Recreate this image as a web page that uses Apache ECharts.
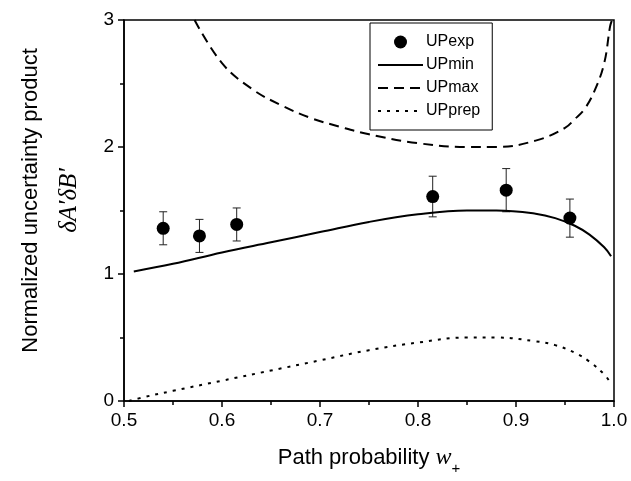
<!DOCTYPE html>
<html>
<head>
<meta charset="utf-8">
<script src="https://cdn.jsdelivr.net/npm/echarts@6/dist/echarts.min.js"></script>
<style>
  html, body { margin: 0; padding: 0; background: #fff; }
  #main { width: 631px; height: 481px; }
</style>
</head>
<body>
<div id="main"></div>
<script>
// measured points (path probability, UP, error)
var expW = [0.540, 0.577, 0.615, 0.815, 0.890, 0.955];
var expUP = [1.36, 1.30, 1.39, 1.61, 1.66, 1.44];
var expErr = [0.13, 0.13, 0.13, 0.16, 0.17, 0.15];

// UPmin curve
var minW = [0.51, 0.55, 0.60, 0.65, 0.70, 0.75, 0.80, 0.85, 0.88, 0.92, 0.94, 0.96, 0.975, 0.99, 0.997];
var minUP = [1.02, 1.08, 1.17, 1.25, 1.33, 1.41, 1.47, 1.50, 1.50, 1.475, 1.44, 1.38, 1.31, 1.21, 1.14];

// UPmax curve
var maxW = [0.572, 0.60, 0.63, 0.66, 0.69, 0.72, 0.75, 0.80, 0.85, 0.88, 0.92, 0.95, 0.96, 0.97, 0.98, 0.99, 0.996, 0.998];
var maxUP = [3.00, 2.66, 2.46, 2.33, 2.23, 2.16, 2.10, 2.03, 2.00, 2.00, 2.05, 2.15, 2.22, 2.30, 2.44, 2.66, 2.95, 3.00];

// UPprep curve
var prepW = [0.505, 0.52, 0.55, 0.60, 0.65, 0.70, 0.75, 0.80, 0.85, 0.88, 0.92, 0.94, 0.96, 0.975, 0.99, 0.995];
var prepUP = [0.00, 0.03, 0.08, 0.16, 0.24, 0.32, 0.40, 0.46, 0.50, 0.50, 0.47, 0.44, 0.38, 0.31, 0.21, 0.16];

function pairs(xs, ys) {
    return xs.map(function (x, i) { return [x, ys[i]]; });
}

var chart = echarts.init(document.getElementById('main'));
var font = 'Liberation Sans, Arial, sans-serif';
var noSymbol = { opacity: 0 };

var option = {
    animation: false,
    backgroundColor: '#fff',
    grid: {
        left: 124, right: 17, top: 20, bottom: 80,
        show: true, borderColor: '#000', borderWidth: 1.5
    },
    legend: {
        orient: 'vertical',
        left: 370, top: 23,
        data: [
            { name: 'UPexp' },
            { name: 'UPmin', itemStyle: noSymbol },
            { name: 'UPmax', itemStyle: noSymbol },
            { name: 'UPprep', itemStyle: noSymbol }
        ],
        itemWidth: 45, itemHeight: 13, itemGap: 7,
        borderColor: '#000', borderWidth: 1,
        padding: [11, 12, 11, 7],
        textStyle: { fontFamily: font, fontSize: 16, color: '#000', padding: [0, 0, 0, -2] }
    },
    xAxis: {
        type: 'value', min: 0.5, max: 1.0, interval: 0.1,
        name: '{a|Path probability }{w|w}{s|+}',
        nameLocation: 'middle', nameGap: 38,
        nameTextStyle: {
            rich: {
                a: { fontFamily: font, fontSize: 22, color: '#000' },
                w: { fontFamily: 'Liberation Serif, serif', fontStyle: 'italic', fontSize: 24, color: '#000' },
                s: { fontFamily: font, fontSize: 15, color: '#000', padding: [22, 0, 0, 0] }
            }
        },
        axisLine: { lineStyle: { color: '#000', width: 1.5 } },
        axisTick: { length: 6, lineStyle: { color: '#000', width: 1.5 } },
        minorTick: { show: true, splitNumber: 2, length: 4, lineStyle: { color: '#000', width: 1.5 } },
        axisLabel: {
            fontFamily: font, fontSize: 19, color: '#000', margin: 10,
            formatter: function (v) { return v.toFixed(1); }
        },
        splitLine: { show: false }
    },
    yAxis: {
        type: 'value', min: 0, max: 3, interval: 1,
        name: '{a|Normalized uncertainty product}\n{b|δA′δB′}',
        nameLocation: 'middle', nameGap: 40, nameRotate: 90,
        nameTextStyle: {
            padding: [0, 0, 0, 20],
            rich: {
                a: { fontFamily: font, fontSize: 22, color: '#000', lineHeight: 46 },
                b: { fontFamily: 'Liberation Serif, serif', fontStyle: 'italic', fontSize: 25, color: '#000', lineHeight: 30 }
            }
        },
        axisLine: { lineStyle: { color: '#000', width: 1.5 } },
        axisTick: { length: 6, lineStyle: { color: '#000', width: 1.5 } },
        minorTick: { show: true, splitNumber: 2, length: 4, lineStyle: { color: '#000', width: 1.5 } },
        axisLabel: { fontFamily: font, fontSize: 19, color: '#000', margin: 10 },
        splitLine: { show: false }
    },
    series: [
        {
            name: 'UPmin', type: 'line', smooth: 0.4, symbol: 'none',
            data: pairs(minW, minUP),
            lineStyle: { color: '#000', width: 2 },
            itemStyle: { color: '#000' }
        },
        {
            name: 'UPmax', type: 'line', smooth: 0.4, symbol: 'none',
            data: pairs(maxW, maxUP),
            lineStyle: { color: '#000', width: 2, type: [10, 6] },
            itemStyle: { color: '#000' }
        },
        {
            name: 'UPprep', type: 'line', smooth: 0.4, symbol: 'none',
            data: pairs(prepW, prepUP),
            lineStyle: { color: '#000', width: 2, type: [3, 6] },
            itemStyle: { color: '#000' }
        },
        {
            // error bars
            type: 'custom',
            data: expW.map(function (w, i) { return [w, expUP[i] - expErr[i], expUP[i] + expErr[i]]; }),
            renderItem: function (params, api) {
                var lo = api.coord([api.value(0), api.value(1)]);
                var hi = api.coord([api.value(0), api.value(2)]);
                var c = 4;
                var st = { stroke: '#222', lineWidth: 1 };
                return {
                    type: 'group',
                    children: [
                        { type: 'line', shape: { x1: lo[0], y1: lo[1], x2: hi[0], y2: hi[1] }, style: st },
                        { type: 'line', shape: { x1: lo[0] - c, y1: lo[1], x2: lo[0] + c, y2: lo[1] }, style: st },
                        { type: 'line', shape: { x1: hi[0] - c, y1: hi[1], x2: hi[0] + c, y2: hi[1] }, style: st }
                    ]
                };
            },
            z: 3
        },
        {
            name: 'UPexp', type: 'scatter', symbol: 'circle', symbolSize: 13,
            data: pairs(expW, expUP),
            itemStyle: { color: '#000', opacity: 1 },
            z: 4
        }
    ]
};

chart.setOption(option);
</script>
</body>
</html>
